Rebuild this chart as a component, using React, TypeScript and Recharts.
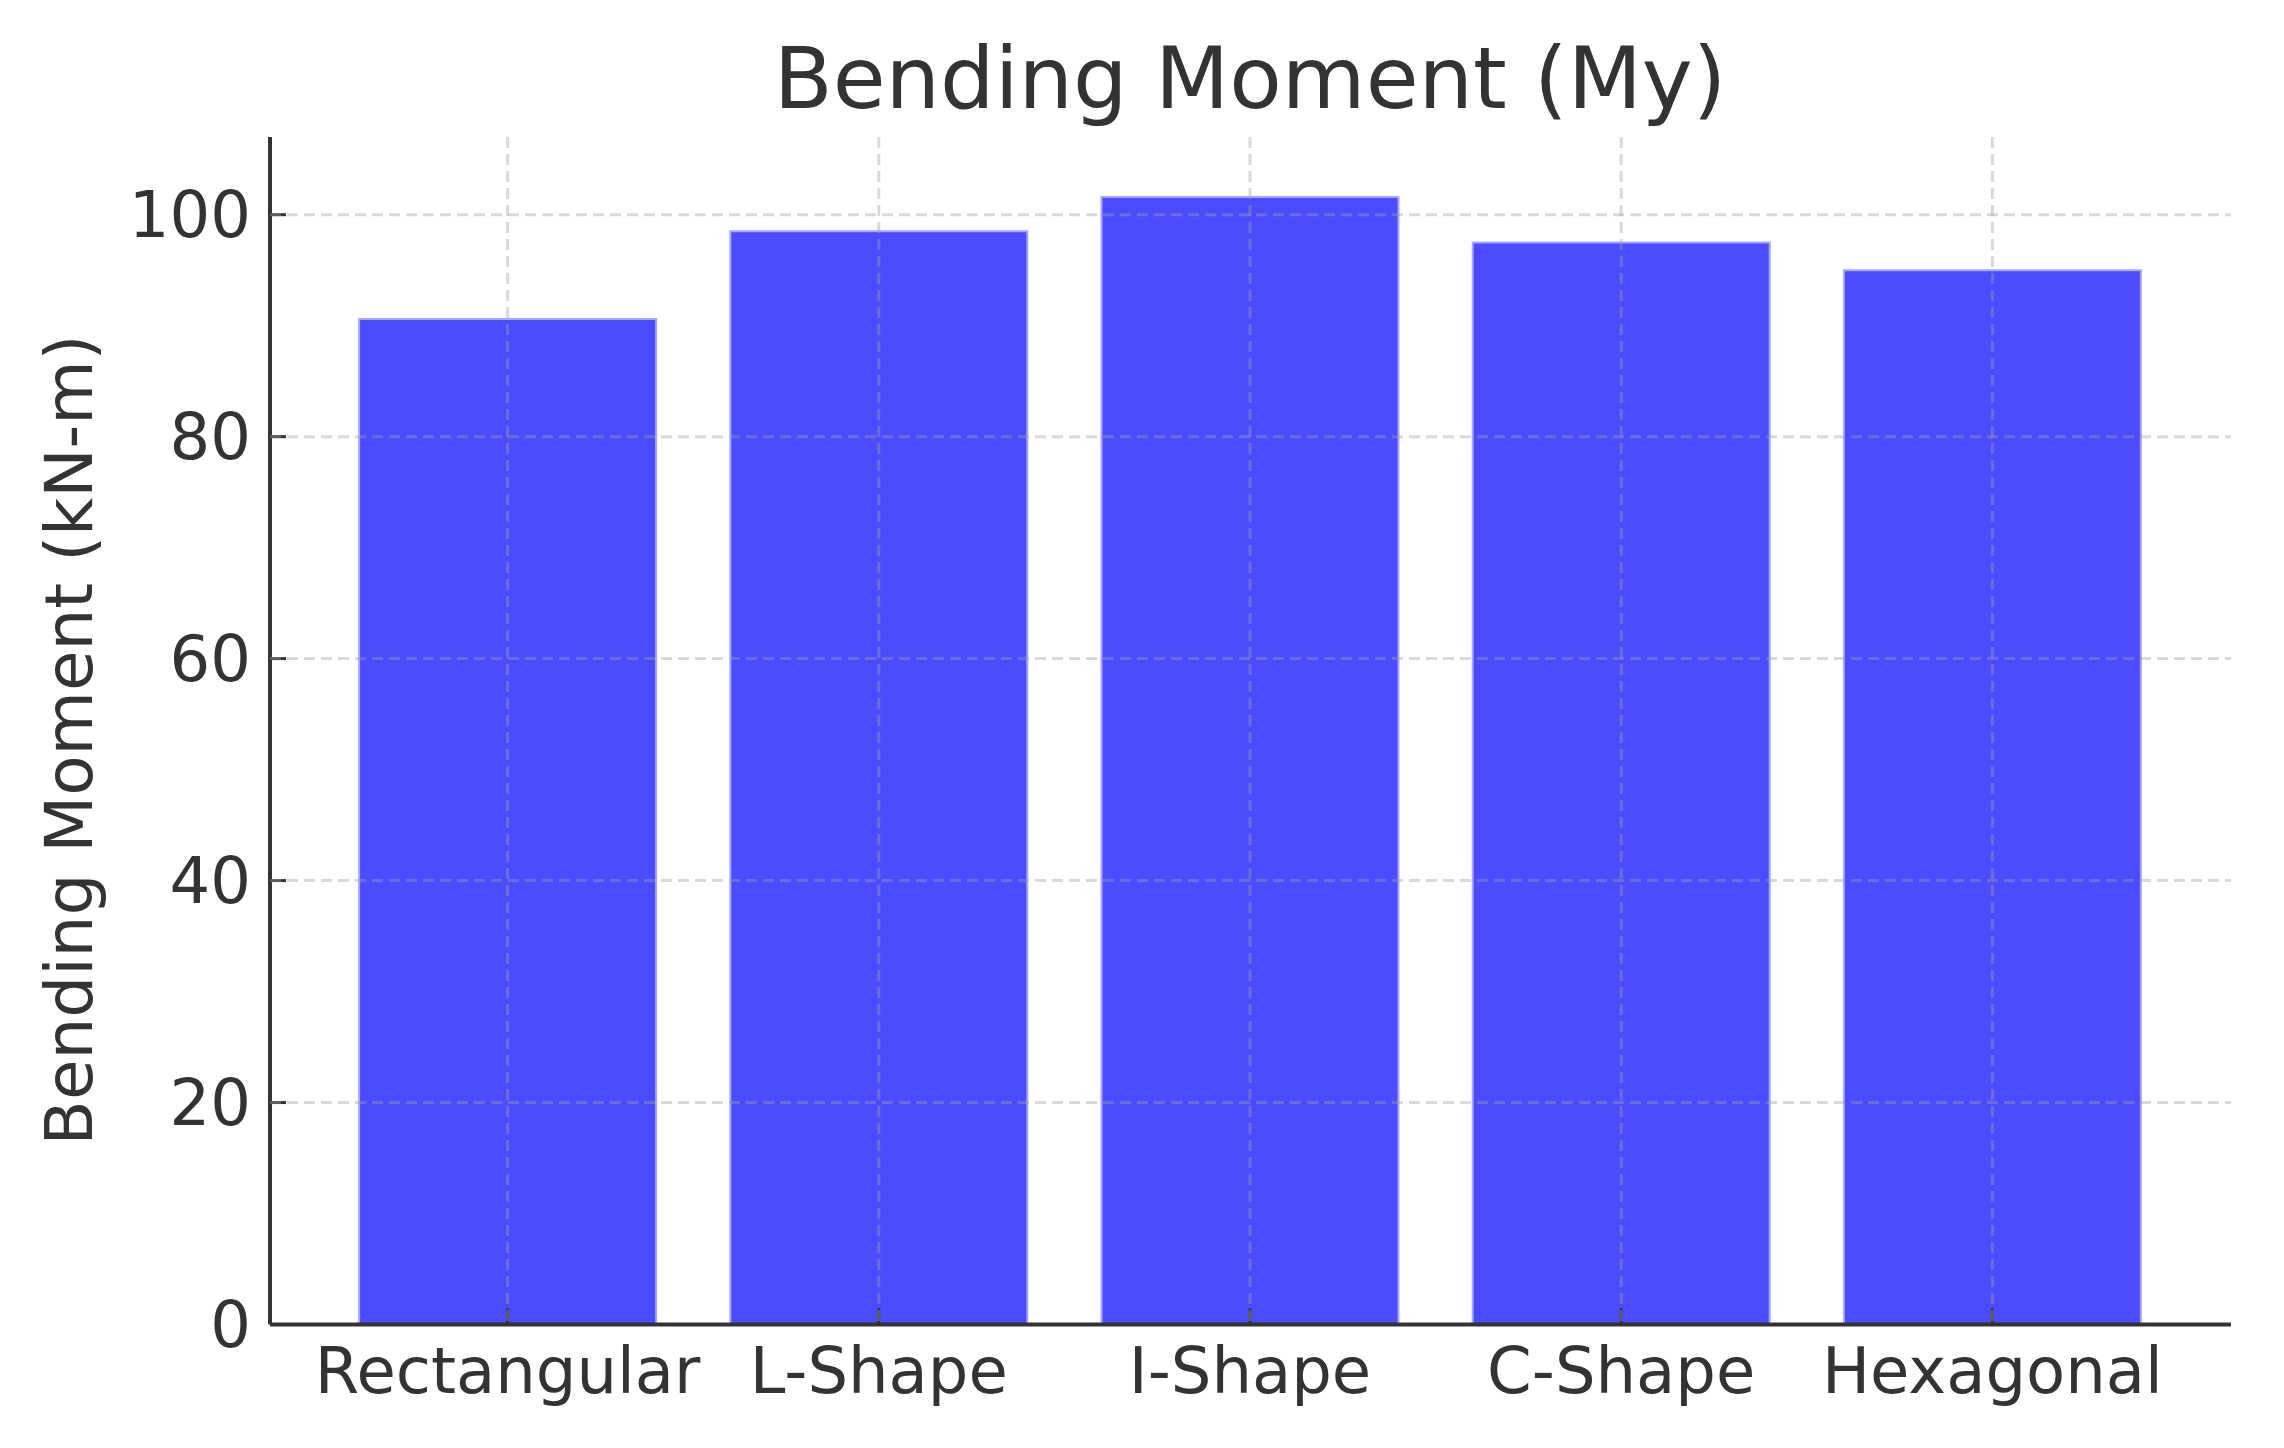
import { BarChart, Bar, XAxis, YAxis, CartesianGrid } from "recharts"

const SHAPES = ["Rectangular", "L-Shape", "I-Shape", "C-Shape", "Hexagonal"]
const MOMENT_MY = [90.6, 98.5, 101.6, 97.5, 95.0]
const Y_TICKS = [0, 20, 40, 60, 80, 100]
const Y_MAX = 107

const data = SHAPES.map((shape, i) => ({ shape, my: MOMENT_MY[i] }))

const FONT = "'DejaVu Sans', sans-serif"
const INK = "#333333"

export default function App() {
  return (
    <div style={{ position: "absolute", left: 0, top: 0, background: "#fff" }}>
      <BarChart
        width={2284}
        height={1448}
        data={data}
        margin={{ top: 137, right: 53, bottom: 0, left: 0 }}
        barCategoryGap="10%"
        style={{ fontFamily: FONT }}
      >
        <text x={1250} y={108} textAnchor="middle" fontSize={86} fill={INK} fontFamily={FONT}>
          Bending Moment (My)
        </text>
        <text
          x={92}
          y={740}
          textAnchor="middle"
          fontSize={66}
          fill={INK}
          fontFamily={FONT}
          transform="rotate(-90 92 740)"
        >
          Bending Moment (kN-m)
        </text>
        <Bar
          dataKey="my"
          fill="#4b4bff"
          stroke="#a5a5ff"
          strokeWidth={2}
          isAnimationActive={false}
        />
        {/* grid sits over the bars, like matplotlib's default */}
        <CartesianGrid
          stroke="#a0a0a0"
          strokeOpacity={0.4}
          strokeWidth={3}
          strokeDasharray="11 6"
          horizontalValues={Y_TICKS.filter((t) => t > 0)}
          verticalValues={SHAPES}
          zIndex={600}
        />
        <XAxis
          dataKey="shape"
          interval={0}
          height={123.5}
          padding={{ left: 52, right: 53 }}
          axisLine={{ stroke: INK, strokeWidth: 4 }}
          tickLine={{ stroke: INK, strokeWidth: 3 }}
          tickSize={-16}
          tickMargin={39}
          tick={{ fontSize: 64, fill: INK, fontFamily: FONT }}
        />
        <YAxis
          type="number"
          domain={[0, Y_MAX]}
          ticks={Y_TICKS}
          width={270}
          axisLine={{ stroke: INK, strokeWidth: 4 }}
          tickLine={{ stroke: INK, strokeWidth: 3 }}
          tickSize={-16}
          tickMargin={35}
          tick={{ fontSize: 64, fill: INK, fontFamily: FONT }}
        />
      </BarChart>
    </div>
  )
}
